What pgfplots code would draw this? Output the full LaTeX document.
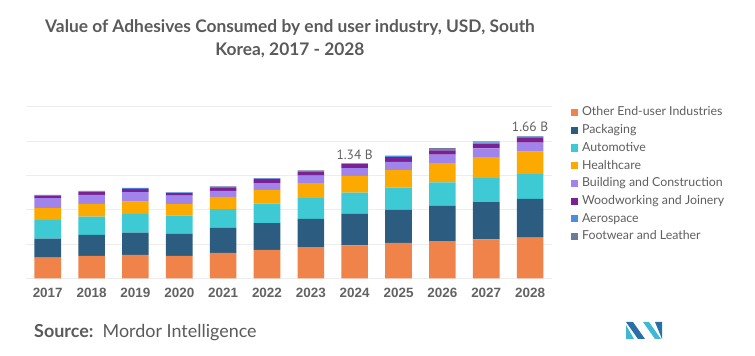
\documentclass[border=0pt]{standalone}
\usepackage{pgfplots}
\usepackage{pgfplotstable}
\pgfplotsset{compat=1.18}
\usepackage{fontspec}
\setmainfont{Lato}
\newfontfamily\tickfont{Liberation Sans}
\newfontfamily\labfont{PT Sans}
\definecolor{cOther}{HTML}{F0834A}
\definecolor{cPack}{HTML}{2C5D80}
\definecolor{cAuto}{HTML}{3DCAD4}
\definecolor{cHealth}{HTML}{FDAA00}
\definecolor{cBuild}{HTML}{A084EC}
\definecolor{cWood}{HTML}{7A2293}
\definecolor{cAero}{HTML}{4A8FE2}
\definecolor{cFoot}{HTML}{6C7A9C}
\definecolor{gridc}{HTML}{EDEDED}
\definecolor{titlec}{HTML}{5A5A5A}
\definecolor{tickc}{HTML}{626262}
\definecolor{legc}{HTML}{5E5E5E}
\definecolor{logoD}{HTML}{2A6FA8}
\definecolor{logoT}{HTML}{3FB8D6}

\pgfplotstableread{
x other pack auto health build wood aero foot
0  0.240 0.222 0.218 0.137 0.117 0.029 0.006 0.004
1  0.260 0.245 0.214 0.148 0.105 0.035 0.007 0.005
2  0.272 0.260 0.218 0.144 0.110 0.039 0.007 0.005
3  0.260 0.257 0.214 0.133 0.100 0.030 0.006 0.004
4  0.295 0.292 0.218 0.144 0.070 0.041 0.007 0.004
5  0.330 0.312 0.229 0.160 0.078 0.049 0.006 0.004
6  0.362 0.330 0.242 0.175 0.089 0.040 0.012 0.007
7  0.385 0.365 0.249 0.195 0.090 0.047 0.007 0.005
8  0.412 0.385 0.260 0.207 0.093 0.055 0.012 0.007
9  0.432 0.413 0.272 0.225 0.098 0.050 0.016 0.011
10 0.455 0.432 0.280 0.245 0.102 0.055 0.016 0.011
11 0.475 0.452 0.287 0.261 0.105 0.058 0.012 0.007
}\datatable

\begin{document}
\begin{tikzpicture}
\path[use as bounding box] (0,0) rectangle (755bp,356bp);
\begin{axis}[
  at={(25.8bp,77.7bp)}, anchor=south west,
  scale only axis, width=526.2bp, height=171.6bp,
  ybar stacked, bar width=26.6bp,
  xmin=-0.5, xmax=11.5, ymin=0, ymax=2.0,
  xtick={0,1,2,3,4,5,6,7,8,9,10,11},
  xticklabels={2017,2018,2019,2020,2021,2022,2023,2024,2025,2026,2027,2028},
  ytick={0,0.4,0.8,1.2,1.6,2.0}, yticklabels={},
  ymajorgrids, grid style={draw=gridc, line width=0.7bp},
  axis line style={draw=none}, major tick length=0pt,
  xticklabel style={font=\tickfont\bfseries\fontsize{13.5}{14}\selectfont, text=tickc,
     inner sep=0pt, text height=10bp, text depth=0pt, anchor=north, yshift=-9.5bp},
  clip=false,
  legend style={at={(1.036,1.0)}, anchor=north west, draw=none, fill=none,
     inner sep=0pt, row sep=6.2bp, font=\fontsize{12.4}{13}\selectfont, text=legc,
     nodes={inner sep=0pt, text height=9bp, text depth=2.5bp},
     column sep=3.7bp},
  legend cell align=left,
  legend image code/.code={\fill[#1,draw=none] (0bp,-3.6bp) rectangle (7.2bp,3.6bp);},
]
\addplot[fill=cOther, draw=none] table[x=x,y=other] {\datatable};
\addplot[fill=cPack, draw=none] table[x=x,y=pack] {\datatable};
\addplot[fill=cAuto, draw=none] table[x=x,y=auto] {\datatable};
\addplot[fill=cHealth, draw=none] table[x=x,y=health] {\datatable};
\addplot[fill=cBuild, draw=none] table[x=x,y=build] {\datatable};
\addplot[fill=cWood, draw=none] table[x=x,y=wood] {\datatable};
\addplot[fill=cAero, draw=none] table[x=x,y=aero] {\datatable};
\addplot[fill=cFoot, draw=none] table[x=x,y=foot] {\datatable};
\legend{Other End-user Industries,Packaging,Automotive,Healthcare,Building and Construction,Woodworking and Joinery,Aerospace,Footwear and Leather}
\node[font=\labfont\fontsize{13.5}{14}\selectfont, text=tickc, anchor=base, yshift=4bp] at (axis cs:7,1.343) {1.34 B};
\node[font=\labfont\fontsize{13.5}{14}\selectfont, text=tickc, anchor=base, yshift=5bp] at (axis cs:11,1.657) {1.66 B};
\end{axis}
\node[font=\bfseries\fontsize{17.4}{19}\selectfont, text=titlec] at (290bp,328bp) {Value of Adhesives Consumed by end user industry, USD, South};
\node[font=\bfseries\fontsize{17.4}{19}\selectfont, text=titlec] at (290bp,306bp) {Korea, 2017 - 2028};
\node[anchor=west, font=\fontsize{18}{20}\selectfont, text=titlec, inner sep=0pt] at (34bp,23bp) {\textbf{Source:}\, Mordor Intelligence};
\fill[logoT] (626bp,17bp) -- (626bp,31bp) -- (634bp,17bp) -- cycle;
\fill[logoD] (626bp,34bp) -- (633bp,34bp) -- (645bp,17bp) -- (638bp,17bp) -- cycle;
\fill[logoT] (643bp,34bp) -- (649bp,34bp) -- (661bp,17bp) -- (655bp,17bp) -- cycle;
\fill[logoD] (655bp,34bp) -- (662bp,34bp) -- (662bp,17bp) -- cycle;
\end{tikzpicture}
\end{document}
